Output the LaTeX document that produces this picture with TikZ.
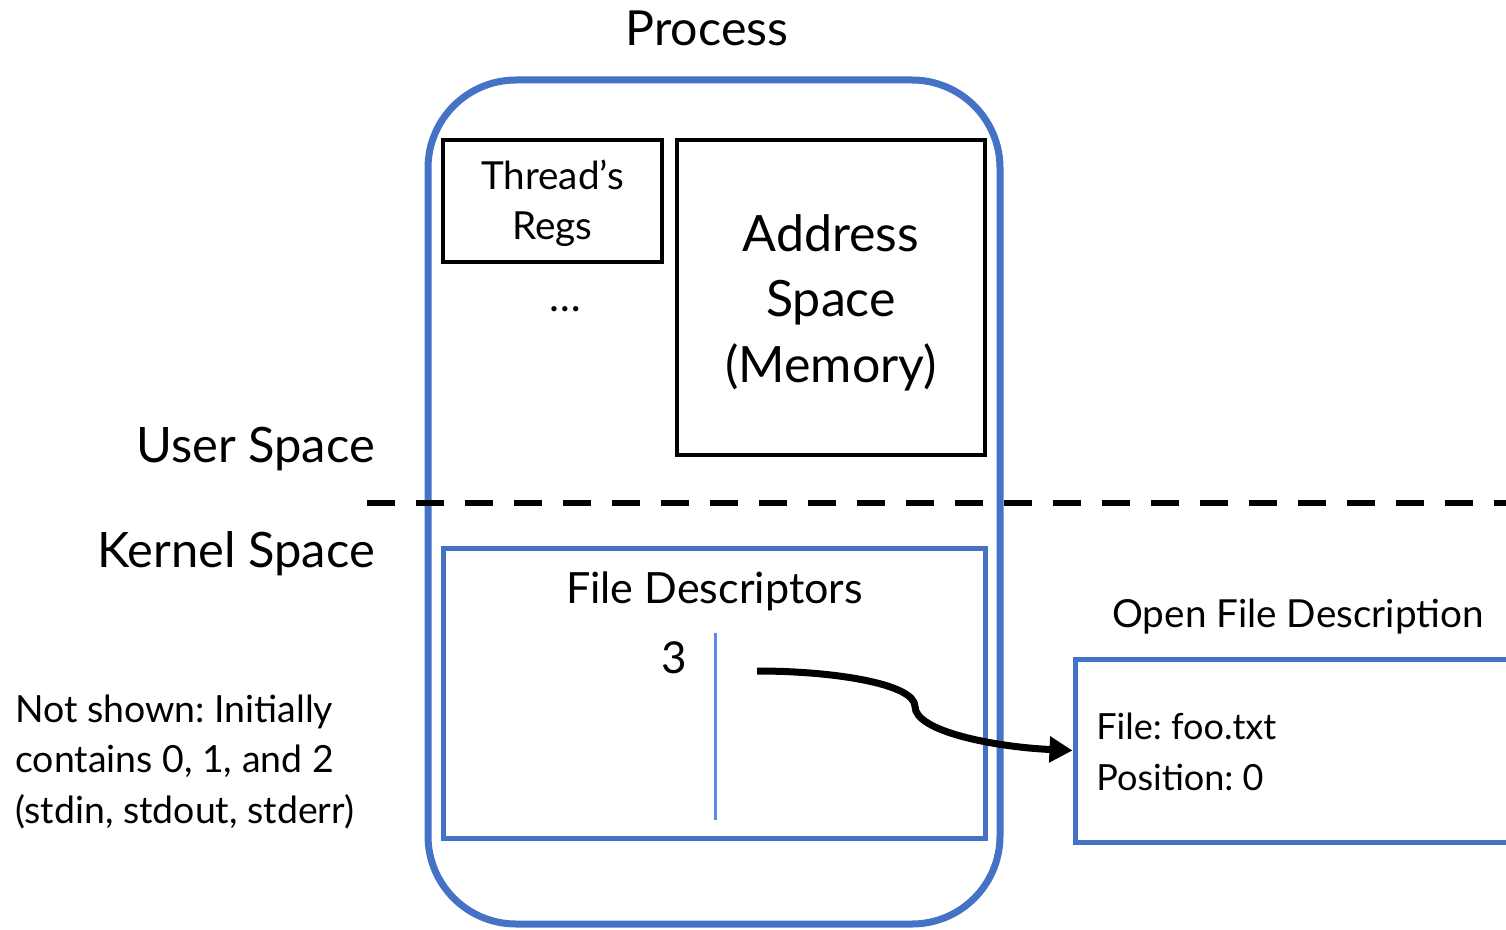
\documentclass[tikz,border=0pt]{standalone}
\usepackage{fontspec}
\setmainfont{Lato}
\usepackage{xcolor}
\usetikzlibrary{arrows.meta,positioning,calc}
\definecolor{procblue}{RGB}{68,114,196}
\definecolor{fdline}{RGB}{88,138,240}
\newcommand{\fsz}[2]{\fontsize{#1}{#2}\selectfont}
\frenchspacing
\tikzset{
  procbox/.style={draw=procblue, line width=0.14cm, rounded corners=1.76cm, inner sep=0pt},
  regbox/.style={draw, line width=0.09cm, inner sep=0pt},
  bluebox/.style={draw=procblue, line width=0.1cm, inner sep=0pt},
  divider/.style={line width=0.12cm, dash pattern=on 0.56cm off 0.42cm},
  ptr/.style={line width=0.14cm, -{Triangle[length=0.46cm,width=0.5cm]}},
  txt/.style={inner sep=0pt, align=center}
}

\begin{document}
\begin{tikzpicture}

\clip (0,0) rectangle (30.12,18.58);
\useasboundingbox (0,0) rectangle (30.12,18.58);

% process
\node[procbox, minimum width=11.44cm, minimum height=16.88cm] (proc) at (14.28,8.54) {};
\node[txt, anchor=base, font=\fsz{27.5}{30}] (proctitle) at (14.14,17.66) {Process};

% user space
\node[regbox, minimum width=4.38cm, minimum height=2.44cm] (regs) at (11.05,14.56) {};
\node[txt, anchor=base, font=\fsz{22}{28.5}] (regstxt) at (11.05,13.78) {Thread’s\\Regs};
\node[txt, anchor=base, font=\fsz{24}{29}] (dots) at (11.3,12.34) {\ldots};

\node[regbox, minimum width=6.16cm, minimum height=6.3cm] (addr) at (16.62,12.63) {};
\node[txt, anchor=base, font=\fsz{28.5}{37}] (addrtxt) at (16.62,10.94) {Address\\Space\\(Memory)};

% user / kernel
\coordinate (divl) at (7.34,8.52);
\coordinate (divr) at (30.4,8.52);
\draw[divider] (divl) -- (divr);
\node[txt, anchor=base east, font=\fsz{27.8}{35}] (user) at (7.5,9.34) {User Space};
\node[txt, anchor=base east, font=\fsz{27.8}{35}] (kernel) at (7.5,7.24) {Kernel Space};

% kernel space
\node[bluebox, minimum width=10.84cm, minimum height=5.8cm] (fd) at (14.28,4.72) {};
\node[txt, anchor=base, font=\fsz{24.5}{30}] (fdtitle) at (14.29,6.52) {File Descriptors};
\coordinate (fdtop) at (14.3,5.92);
\coordinate (fdbot) at (14.3,2.18);
\draw[fdline, line width=0.06cm] (fdtop) -- (fdbot);
\node[txt, anchor=base, font=\fsz{25}{30}] (fdnum) at (13.49,5.12) {3};

\node[bluebox, minimum width=10cm, minimum height=3.66cm] (ofd) at (26.5,3.57) {};
\node[txt, anchor=base, font=\fsz{22}{26}] (ofdtitle) at (25.96,6.04) {Open File Description};
\node[txt, anchor=base west, align=left, font=\fsz{20.5}{28.5}] (ofdtxt) at (21.92,2.78) {File: foo.txt\\Position: 0};

\coordinate (fdstart) at (15.14,5.16);
\draw[ptr] (fdstart) .. controls (16.7,5.16) and (18.3,4.9) .. (18.3,4.45)
  .. controls (18.3,3.95) and (19.9,3.64) .. (ofd.west);

% note
\node[txt, anchor=base west, align=left, font=\fsz{21.3}{28.5}] (note) at (0.3,2.12)
  {Not shown: Initially\\contains 0, 1, and 2\\(stdin, stdout, stderr)};

\end{tikzpicture}
\end{document}
